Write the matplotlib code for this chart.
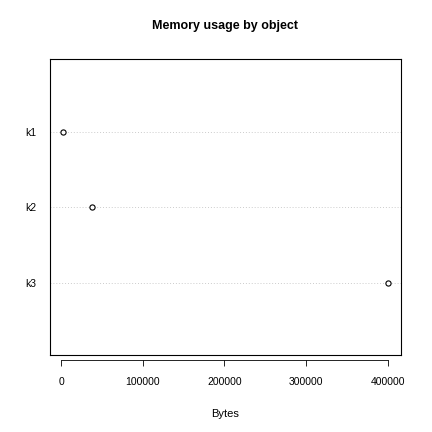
import matplotlib
matplotlib.use('Agg')
import matplotlib.pyplot as plt
import matplotlib.transforms as mtransforms

labels = ['k1', 'k2', 'k3']
values = [2500, 38000, 400000]
xticks = [0, 100000, 200000, 300000, 400000]

plt.rcParams['font.family'] = 'Liberation Sans'
fig = plt.figure(figsize=(4.32, 4.32), dpi=100)
ax = fig.add_axes([0.1157, 0.178, 0.8125, 0.6852])

ypos = [3, 2, 1]
for y in ypos:
    ax.axhline(y, color='#cccccc', linestyle=(0, (1, 2)), linewidth=0.7, zorder=0)
ax.scatter(values, ypos, s=14, facecolors='white', edgecolors='black', linewidths=0.8, zorder=3)

ax.set_xlim(-13500, 416000)
ax.set_ylim(0.04, 3.97)
ax.set_yticks(ypos)
ax.set_yticklabels(labels, fontsize=7.5)
ax.tick_params(axis='y', length=0, pad=10)
ax.set_xticks([])
for s in ax.spines.values():
    s.set_linewidth(0.8)

sec = ax.secondary_xaxis(-0.017)
sec.set_xticks(xticks)
sec.set_xticklabels([str(t) for t in xticks], fontsize=7.5)
sec.spines['bottom'].set_visible(False)
sec.tick_params(axis='x', length=4, width=0.6, pad=8)
sec.set_xlabel('Bytes', fontsize=8, labelpad=16)

# axis line only across the tick range
trans = mtransforms.blended_transform_factory(ax.transData, ax.transAxes)
ax.plot([xticks[0], xticks[-1]], [-0.017, -0.017], color='black', linewidth=0.6,
        transform=trans, clip_on=False)

ax.set_title('Memory usage by object', fontsize=9, fontweight='bold', pad=22)
fig.savefig('out.png', dpi=100)
